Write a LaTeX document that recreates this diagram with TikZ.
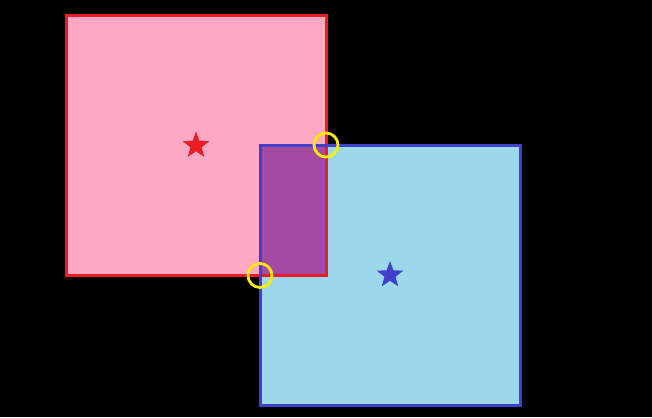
\documentclass[tikz,border=0pt]{standalone}
\usepackage{xcolor}
\usetikzlibrary{shapes.geometric}
\definecolor{sqpink}{RGB}{255,168,196}
\definecolor{sqred}{RGB}{236,28,36}
\definecolor{sqcyan}{RGB}{154,216,234}
\definecolor{sqblue}{RGB}{64,64,204}
\definecolor{sqpurple}{RGB}{162,75,160}
\definecolor{ringyellow}{RGB}{255,236,0}

\begin{document}
\begin{tikzpicture}[x=1pt,y=-1pt, sq/.style={rectangle,inner sep=0pt,minimum size=257pt,line width=3pt}, starmark/.style={star,star points=5,star point ratio=2.4,inner sep=0pt,minimum size=28pt}, ring/.style={circle,draw=ringyellow,line width=2.8pt,minimum size=24pt,inner sep=0pt}]
\fill[black] (0,0) rectangle (652,417);
\useasboundingbox (0,0) rectangle (652,417);
% squares: fills first, borders later
\node[sq,fill=sqpink] (red) at (196,145.5) {};
\node[sq,fill=sqcyan] (blue) at (390,275) {};
\fill[sqpurple] (blue.north west) rectangle (red.south east);
\draw[sqred,line width=3pt] (red.south west) rectangle (red.north east);
\draw[sqblue,line width=3pt] (blue.south west) rectangle (blue.north east);
% centres
\node[starmark,fill=sqred] (redc) at (red.center) {};
\node[starmark,fill=sqblue] (bluec) at (blue.center) {};
% crossing points
\node[ring] (cross1) at (red.east |- blue.north) {};
\node[ring] (cross2) at (blue.west |- red.south) {};
\end{tikzpicture}
\end{document}
